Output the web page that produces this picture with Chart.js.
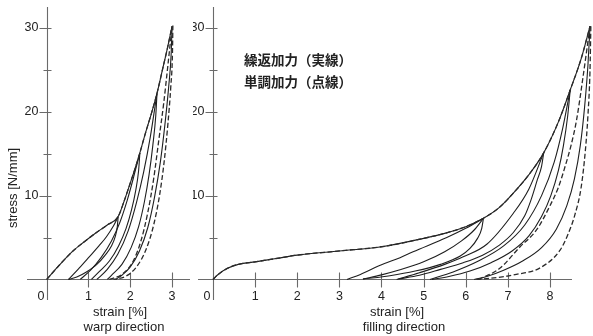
<!DOCTYPE html>
<html>
<head>
<meta charset="utf-8">
<script src="https://cdn.jsdelivr.net/npm/chart.js@4"></script>
<style>
  html, body { margin: 0; padding: 0; background: #fff; }
  #wrap { position: relative; width: 593px; height: 336px; overflow: hidden; }
  canvas { position: absolute; top: 0; }
  #warp { left: 0; }
  #fill { left: 193px; }
</style>
</head>
<body>
<div id="wrap">
  <canvas id="warp" width="200" height="336"></canvas>
  <canvas id="fill" width="400" height="336"></canvas>
</div>
<script>
// ---- tick values and labels ----
const yTicks = [0, 5, 10, 15, 20, 25, 30];
const yLabels = [10, 20, 30];
const warpXTicks = [1, 2, 3];
const fillXTicks = [1, 2, 3, 4, 5, 6, 7, 8];

// ---- warp direction: [strain %, stress N/mm] ----
// monotonic test (dashed)
const warpMonoLoad = [[0,0],[0.3,1.7],[0.63,3.4],[0.9,4.5],[1.19,5.6],[1.45,6.5],[1.71,7.5],[1.85,9.3],[2.0,11.5],[2.12,13.3],[2.23,15.1],[2.36,17.4],[2.5,19.7],[2.64,22.2],[2.77,25],[2.89,27.6],[3.0,30.2]];
const warpMonoUnload = [[3.02,30.3],[3.01,27],[2.97,23],[2.9,18.5],[2.81,14],[2.7,10],[2.56,6.5],[2.38,3.6],[2.15,1.5],[1.9,0.4],[1.6,0]];
const warpMonoReload = [[1.5,0],[1.8,0.6],[2.05,2.0],[2.25,4.5],[2.42,8],[2.56,12],[2.68,16.5],[2.8,21],[2.9,25.5],[3.0,30.2]];
// cyclic test (solid)
const warpEnvelope = [[0,0],[0.3,1.7],[0.63,3.4],[0.9,4.5],[1.19,5.6],[1.45,6.5],[1.71,7.5],[1.85,9.3],[2.0,11.5],[2.12,13.3],[2.23,15.1],[2.36,17.4],[2.5,19.7],[2.64,22.2],[2.77,25],[2.89,27.6],[3.0,30.2]];
const warpUnload1 = [[1.71,7.5],[1.69,6.3],[1.64,5.1],[1.55,4.0],[1.4,2.9],[1.2,1.8],[0.95,0.9],[0.72,0.3],[0.52,0]];
const warpReload1 = [[0.52,0],[0.75,1.2],[1.0,2.6],[1.25,4.0],[1.43,5.1],[1.6,6.4],[1.71,7.5]];
const warpUnload2 = [[2.23,15.1],[2.2,13],[2.13,10.6],[2.03,8.3],[1.9,6.1],[1.72,4.0],[1.5,2.2],[1.25,0.9],[1.07,0]];
const warpReload2 = [[0.8,0],[1.05,1.1],[1.3,2.6],[1.55,4.6],[1.75,6.8],[1.93,9.5],[2.08,12.2],[2.23,15.1]];
const warpUnload3 = [[2.64,22.2],[2.61,19.5],[2.54,16],[2.45,12.5],[2.34,9.3],[2.2,6.3],[2.02,3.8],[1.8,1.8],[1.55,0.5],[1.45,0]];
const warpReload3 = [[1.2,0],[1.45,1.2],[1.7,3.0],[1.95,5.8],[2.15,9.2],[2.32,12.8],[2.48,17],[2.64,22.2]];
const warpUnload4 = [[3.0,30.2],[2.98,27],[2.92,23],[2.83,18.5],[2.72,14],[2.58,9.8],[2.42,6.2],[2.22,3.4],[2.0,1.5],[1.8,0.5],[1.65,0]];

// ---- filling direction: [strain %, stress N/mm] ----
// monotonic test (dashed)
const fillMonoLoad = [[0,0],[0.1,0.5],[0.33,1.3],[0.6,1.8],[1.0,2.1],[1.5,2.5],[2.0,2.9],[3.0,3.4],[4.0,3.9],[5.0,4.9],[5.5,5.5],[6.0,6.3],[6.42,7.3],[6.8,8.6],[7.13,10.3],[7.5,12.5],[7.85,15.1],[8.2,18.8],[8.48,22.6],[8.75,26.5],[8.95,30.2]];
const fillMonoUnload = [[8.97,30.2],[8.95,25],[8.9,19.5],[8.84,15.4],[8.74,11],[8.59,7.7],[8.42,5.3],[8.24,3.5],[7.77,1.4],[7.2,0.6],[6.6,0.15],[6.2,0]];
const fillMonoReload = [[6.3,0],[6.8,1.3],[7.29,3.9],[7.68,5.9],[8.0,8.8],[8.2,11],[8.36,13.5],[8.5,16],[8.63,19],[8.78,24],[8.95,30.2]];
// cyclic test (solid)
const fillEnvelope = [[0,0],[0.1,0.5],[0.33,1.3],[0.6,1.8],[1.0,2.1],[1.5,2.5],[2.0,2.9],[3.0,3.4],[4.0,3.9],[5.0,4.9],[5.5,5.5],[6.0,6.3],[6.42,7.3],[6.8,8.6],[7.13,10.3],[7.5,12.5],[7.85,15.1],[8.2,18.8],[8.48,22.6],[8.75,26.5],[8.95,30.2]];
const fillUnload1 = [[6.42,7.3],[6.38,6.1],[6.28,4.9],[6.1,3.7],[5.87,2.8],[5.4,1.8],[4.8,1.0],[4.2,0.45],[3.56,0.05]];
const fillReload1 = [[3.18,0],[3.5,0.6],[3.97,1.7],[4.44,2.6],[4.75,3.3],[5.55,5.0],[6.0,6.1],[6.42,7.3]];
const fillReload1b = [[3.56,0.05],[4.0,0.55],[4.44,1.15],[5.0,2.1],[5.5,3.3],[5.9,4.6],[6.2,5.9],[6.42,7.3]];
const fillUnload2 = [[7.85,15.1],[7.8,13.5],[7.7,11.9],[7.55,9.5],[7.4,7.6],[7.13,5.6],[6.8,4.1],[6.4,2.9],[5.94,2.0],[5.4,1.2],[4.9,0.5],[4.4,0.05]];
const fillReload2 = [[4.36,0],[4.9,0.8],[5.5,1.8],[5.94,2.7],[6.5,4.2],[7.13,7.9],[7.5,10.8],[7.85,15.1]];
const fillUnload3 = [[8.48,22.6],[8.42,19.5],[8.32,16],[8.2,13],[8.02,10],[7.8,7.5],[7.5,5.2],[7.1,3.4],[6.6,2.0],[6.1,1.0],[5.6,0.35],[5.2,0]];
const fillReload3 = [[5.15,0],[5.7,0.9],[6.3,2.2],[6.9,4.0],[7.4,6.5],[7.8,10],[8.1,14],[8.3,18],[8.48,22.6]];
const fillUnload4 = [[8.95,30.2],[8.9,25.5],[8.82,20.5],[8.72,16],[8.58,12],[8.4,8.8],[8.15,6],[7.8,3.8],[7.35,2.2],[6.9,1.1],[6.5,0.35],[6.2,0]];

const INK = '#1e1e1e';
const AXIS = '#6a6a6a';
const TEXT = '#222';
const TICK_FONT = '12.5px "Liberation Sans", Arial, sans-serif';
const TITLE_FONT = '13px "Liberation Sans", Arial, sans-serif';

function curve(points, extra) {
  return Object.assign({
    data: points.map(([x, y]) => ({ x, y })),
    borderColor: INK, borderWidth: 1.1,
    cubicInterpolationMode: 'monotone'
  }, extra || {});
}
const solid = p => curve(p);
const dashed = p => curve(p, { borderColor: '#2a2a2a', borderWidth: 1.3, borderDash: [5, 2.5] });

// axis cross with ticks on both sides, tick labels and titles
function crossAxes(cfg) {
  return {
    id: 'crossAxes',
    beforeDatasetsDraw(chart) {
      const { ctx, chartArea: a, scales: { x, y } } = chart;
      const x0 = Math.round(x.getPixelForValue(0)) + 0.5;
      const y0 = Math.round(y.getPixelForValue(0)) + 0.5;
      const xa = x.getPixelForValue(cfg.axisX[0]);
      const xb = x.getPixelForValue(cfg.axisX[1]);
      ctx.save();
      ctx.strokeStyle = AXIS;
      ctx.lineWidth = 1.1;
      ctx.beginPath();
      ctx.moveTo(xa, y0); ctx.lineTo(xb, y0);
      ctx.moveTo(x0, a.top); ctx.lineTo(x0, a.bottom);
      yTicks.forEach(v => {
        if (v === 0) return;
        const p = Math.round(y.getPixelForValue(v)) + 0.5;
        const major = yLabels.includes(v);
        ctx.moveTo(x0 - (major ? 8 : 4), p); ctx.lineTo(x0 + 4, p);
      });
      cfg.xTicks.forEach(v => {
        const p = Math.round(x.getPixelForValue(v)) + 0.5;
        ctx.moveTo(p, y0 - 7); ctx.lineTo(p, y0 + 8);
      });
      ctx.stroke();

      ctx.fillStyle = TEXT;
      ctx.font = TICK_FONT;
      ctx.textBaseline = 'middle';
      ctx.textAlign = 'right';
      yLabels.forEach(v => ctx.fillText(String(v), x0 - 9, y.getPixelForValue(v)));
      ctx.fillText('0', x0 - 3, y0 + 17);
      ctx.textAlign = 'center';
      cfg.xTicks.forEach(v => ctx.fillText(String(v), x.getPixelForValue(v), y0 + 17));
      ctx.font = TITLE_FONT;
      cfg.titles.forEach(t => ctx.fillText(t.text, t.x, t.y));

      if (cfg.yTitle) {
        ctx.save();
        ctx.translate(cfg.yTitle.x, cfg.yTitle.y);
        ctx.rotate(-Math.PI / 2);
        ctx.fillText(cfg.yTitle.text, 0, 0);
        ctx.restore();
      }
      if (cfg.notes) {
        ctx.font = 'bold 13.5px "Noto Sans CJK JP", sans-serif';
        ctx.textAlign = 'left';
        cfg.notes.forEach(n => ctx.fillText(n.text, n.x, n.y));
      }
      ctx.restore();
    }
  };
}

function makeChart(id, datasets, xr, pad, cfg) {
  return new Chart(document.getElementById(id), {
    type: 'line',
    data: { datasets },
    options: {
      responsive: false,
      animation: false,
      events: [],
      layout: { padding: pad },
      elements: { point: { radius: 0 }, line: { fill: false } },
      datasets: { line: { clip: false } },
      plugins: { legend: { display: false }, tooltip: { enabled: false } },
      scales: {
        x: { type: 'linear', min: xr[0], max: xr[1], display: false },
        y: { type: 'linear', min: -2.45, max: 32.5, display: false }
      }
    },
    plugins: [crossAxes(cfg)]
  });
}

makeChart('warp', [
  dashed(warpMonoLoad), dashed(warpMonoUnload), dashed(warpMonoReload),
  solid(warpEnvelope), solid(warpUnload1), solid(warpReload1), solid(warpUnload2),
  solid(warpReload2), solid(warpUnload3), solid(warpReload3), solid(warpUnload4)
], [-0.472, 3.43], { left: 27, right: 10, top: 7, bottom: 36 }, {
  xTicks: warpXTicks,
  axisX: [-0.472, 3.43],
  titles: [{ text: 'strain [%]', x: 120, y: 312 }, { text: 'warp direction', x: 124, y: 327 }],
  yTitle: { text: 'stress [N/mm]', x: 13, y: 188 }
});

makeChart('fill', [
  dashed(fillMonoLoad), dashed(fillMonoUnload), dashed(fillMonoReload),
  solid(fillEnvelope), solid(fillUnload1), solid(fillReload1), solid(fillReload1b),
  solid(fillUnload2), solid(fillReload2), solid(fillUnload3), solid(fillReload3), solid(fillUnload4)
], [-0.356, 9.021], { left: 5, right: 0, top: 7, bottom: 36 }, {
  xTicks: fillXTicks,
  axisX: [-0.356, 8.522],
  titles: [{ text: 'strain [%]', x: 204, y: 312 }, { text: 'filling direction', x: 211, y: 327 }],
  notes: [{ text: '繰返加力（実線）', x: 51, y: 60 }, { text: '単調加力（点線）', x: 51, y: 82 }]
});
</script>
</body>
</html>
